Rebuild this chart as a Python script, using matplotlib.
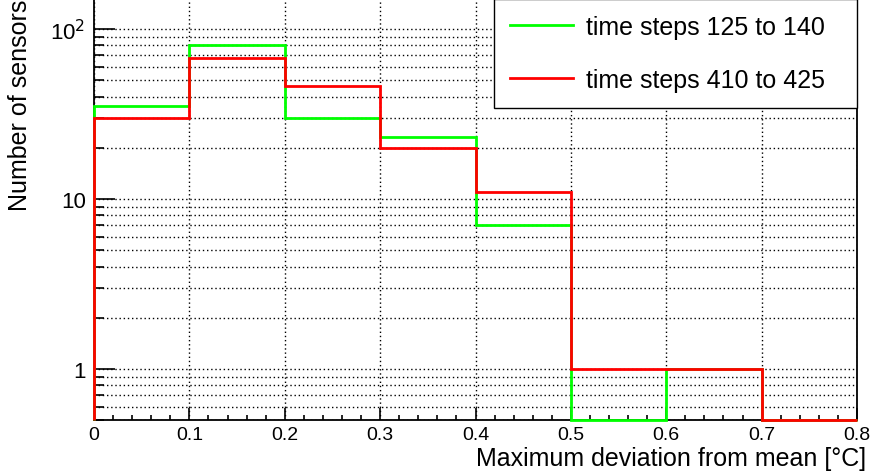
import matplotlib.pyplot as plt
import numpy as np
from matplotlib.ticker import LogLocator, FixedLocator, NullFormatter, FuncFormatter

plt.rcParams["font.family"] = ["Liberation Sans", "DejaVu Sans"]

# Histogram data (counts per 0.1 degC bin).
bin_edges = [0.0, 0.1, 0.2, 0.3, 0.4, 0.5, 0.6, 0.7, 0.8]
counts_early = [35, 80, 30, 23, 7, 0, 1, 0]
counts_late = [30, 67, 46, 20, 11, 1, 1, 0]
label_early = "time steps 125 to 140"
label_late = "time steps 410 to 425"

y_min, y_max = 0.5, 150

fig = plt.figure(figsize=(8.73, 4.77), dpi=100)
ax = fig.add_axes([94 / 873, 1 - 421 / 477, (857 - 94) / 873, 421 / 477])
ax.set_yscale("log")
ax.set_xlim(bin_edges[0], bin_edges[-1])
ax.set_ylim(y_min, y_max)

# Empty bins sit on the bottom of the frame, as in ROOT's log view.
for counts, color, label in [
    (counts_early, "#00ff00", label_early),
    (counts_late, "#ff0000", label_late),
]:
    vals = np.maximum(np.array(counts, dtype=float), y_min)
    ax.stairs(vals, bin_edges, baseline=y_min, color=color, lw=2.0,
              label=label, clip_on=False, zorder=3)

# ROOT-like axes: inward ticks on left/bottom only, dotted grid.
ax.xaxis.set_major_locator(FixedLocator(np.arange(0, 0.81, 0.1)))
ax.xaxis.set_minor_locator(FixedLocator(np.arange(0, 0.801, 0.02)))
ax.xaxis.set_major_formatter(FuncFormatter(lambda v, p: f"{v:.1f}" if v else "0"))
ax.yaxis.set_major_locator(LogLocator(base=10, numticks=10))
ax.yaxis.set_minor_locator(LogLocator(base=10, subs=np.arange(2, 10), numticks=20))
ax.yaxis.set_minor_formatter(NullFormatter())
ax.yaxis.set_major_formatter(FuncFormatter(
    lambda v, p: {1: "1", 10: "10", 100: r"10$^{2}$"}.get(int(round(v)), "")))

ax.tick_params(which="both", direction="in", top=False, right=False, width=1.2)
ax.tick_params(axis="x", which="major", length=8.6, pad=4, labelsize=14)
ax.tick_params(axis="x", which="minor", length=3.8)
ax.tick_params(axis="y", which="major", length=15, pad=6, labelsize=16)
ax.tick_params(axis="y", which="minor", length=7)

ax.grid(True, axis="x", which="major", color="black", ls=(0, (1, 2)), lw=1.0)
ax.grid(True, axis="y", which="both", color="black", ls=(0, (1, 2)), lw=1.0)
ax.set_axisbelow(True)
for s in ax.spines.values():
    s.set_linewidth(1.3)

# Legend box spans x = 494..857 px at the top right of the frame.
leg_x0 = (494 - 94) / (857 - 94)
leg = ax.legend(loc="upper right", bbox_to_anchor=(leg_x0, 0.0, 1 - leg_x0, 1.0),
                mode="expand", borderaxespad=0, fontsize=18, frameon=True,
                fancybox=False, edgecolor="black", framealpha=1,
                handlelength=2.5, handletextpad=0.56, labelspacing=1.15,
                borderpad=0.64)
leg.get_frame().set_linewidth(1.0)

fig.text(20 / 873, 1.0, "Number of sensors", rotation=90, ha="center",
         va="top", fontsize=18)
fig.text(866 / 873, 1 - 459 / 477, "Maximum deviation from mean [°C]",
         ha="right", va="center", fontsize=18)

fig.savefig("out.png", dpi=100)
